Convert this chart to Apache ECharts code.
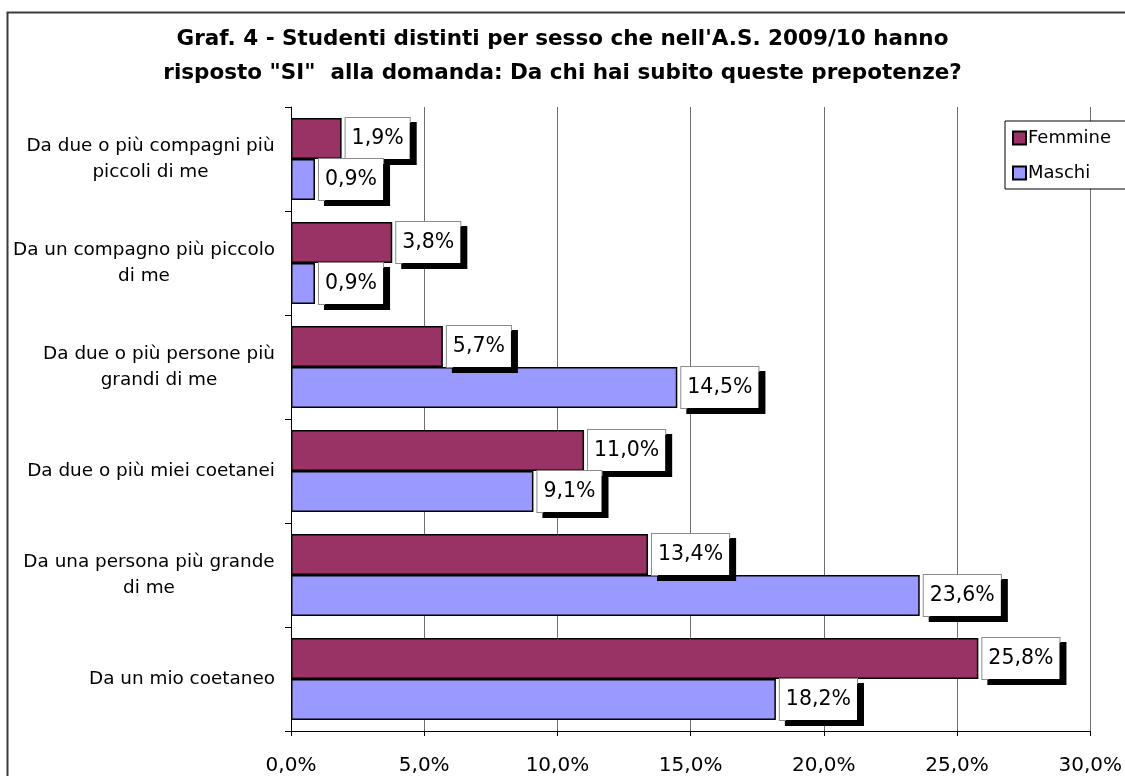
<!DOCTYPE html>
<html>
<head>
<meta charset="utf-8">
<title>Graf. 4</title>
<script src="https://cdn.jsdelivr.net/npm/echarts@6/dist/echarts.min.js"></script>
<style>
  html, body { margin: 0; padding: 0; background: #fff; }
  #chart { width: 1125px; height: 776px; }
</style>
</head>
<body>
<div id="chart"></div>
<script>
// Categories, listed from the bottom of the chart to the top
const categories = [
  'Da un mio coetaneo',
  'Da una persona più grande\ndi me',
  'Da due o più miei coetanei',
  'Da due o più persone più\ngrandi di me',
  'Da un compagno più piccolo\ndi me',
  'Da due o più compagni più\npiccoli di me'
];
// Percentages of students answering "SI", same order as categories
const femmine = [25.8, 13.4, 11.0, 5.7, 3.8, 1.9];
const maschi  = [18.2, 23.6, 9.1, 14.5, 0.9, 0.9];
const xTicks = { min: 0, max: 30, interval: 5 };

const FONT = 'DejaVu Sans';
const CAT_SIZE = 18.4;

// Measure each line so the wrapped category labels can be centred line by line
const ctx = document.createElement('canvas').getContext('2d');
ctx.font = CAT_SIZE + 'px "' + FONT + '"';
const blockWidth = name => Math.ceil(Math.max.apply(null, name.split('\n').map(l => ctx.measureText(l).width)));
const catLabel = name => {
  const w = blockWidth(name);
  return name.split('\n').map(l => '{c' + w + '|' + l + '}').join('\n');
};
const rich = {};
categories.forEach(name => {
  const w = blockWidth(name);
  rich['c' + w] = { width: w, align: 'center', fontSize: CAT_SIZE, fontFamily: FONT, color: '#000', lineHeight: 26 };
});

const pct = v => v.toFixed(1).replace('.', ',') + '%';

const valueLabel = {
  show: true,
  position: 'right',
  distance: 4,
  formatter: p => pct(p.value),
  fontFamily: FONT,
  fontSize: 20.5,
  lineHeight: 24,
  color: '#000',
  backgroundColor: '#fff',
  borderColor: '#8c8c8c',
  borderWidth: 1,
  padding: [9, 6, 8, 6],
  shadowColor: '#000',
  shadowBlur: 0,
  shadowOffsetX: 6,
  shadowOffsetY: 5
};

const chart = echarts.init(document.getElementById('chart'), null, { renderer: 'canvas' });
chart.setOption({
  backgroundColor: '#fff',
  animation: false,
  title: {
    text: 'Graf. 4 - Studenti distinti per sesso che nell\'A.S. 2009/10 hanno\nrisposto "SI"  alla domanda: Da chi hai subito queste prepotenze?',
    left: 'center',
    top: 17,
    textStyle: { fontFamily: FONT, fontWeight: 'bold', fontSize: 21.5, lineHeight: 34, color: '#000' }
  },
  graphic: [{
    type: 'rect',
    left: 5, top: 10,
    shape: { width: 1140, height: 800 },
    style: { fill: 'none', stroke: '#3a3a3a', lineWidth: 2 },
    z: -1
  }],
  legend: {
    orient: 'vertical',
    left: 1005,
    top: 121,
    data: ['Femmine', 'Maschi'],
    icon: 'rect',
    itemWidth: 13,
    itemHeight: 13,
    itemGap: 17,
    padding: [8, 40, 7, 7],
    backgroundColor: '#fff',
    borderColor: '#000',
    borderWidth: 1,
    borderRadius: 0,
    textStyle: { fontFamily: FONT, fontSize: 18, color: '#000', padding: [0, 0, 0, -3] },
    z: 10
  },
  grid: { left: 291, right: 28, top: 107, bottom: 44, containLabel: false },
  xAxis: {
    type: 'value',
    min: xTicks.min, max: xTicks.max, interval: xTicks.interval,
    axisLine: { show: true, lineStyle: { color: '#000', width: 1 } },
    axisTick: { show: true, length: 5, lineStyle: { color: '#000' } },
    axisLabel: { formatter: v => pct(v), fontFamily: FONT, fontSize: 20, color: '#000', margin: 25 },
    splitLine: { show: true, lineStyle: { color: '#6e6e6e', width: 1 } }
  },
  yAxis: {
    type: 'category',
    data: categories,
    axisLine: { show: true, lineStyle: { color: '#000', width: 1 } },
    axisTick: { show: true, length: 6, lineStyle: { color: '#000' } },
    axisLabel: { formatter: catLabel, margin: 16, rich: rich, fontFamily: FONT, fontSize: CAT_SIZE, color: '#000' },
    splitLine: { show: false }
  },
  series: [
    {
      name: 'Femmine',
      type: 'bar',
      data: femmine,
      barGap: '0%',
      barCategoryGap: '21%',
      itemStyle: { color: '#993366', borderColor: '#000', borderWidth: 1.5 },
      label: valueLabel
    },
    {
      name: 'Maschi',
      type: 'bar',
      data: maschi,
      barGap: '0%',
      barCategoryGap: '21%',
      itemStyle: { color: '#9999ff', borderColor: '#000', borderWidth: 1.5 },
      label: valueLabel
    }
  ]
});
</script>
</body>
</html>
